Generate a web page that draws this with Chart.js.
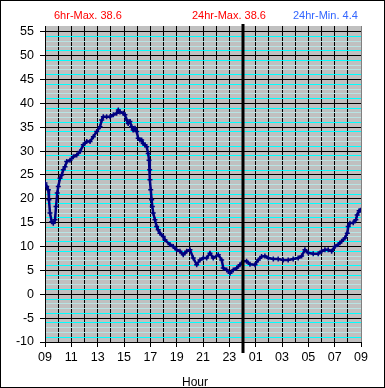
<!DOCTYPE html>
<html><head><meta charset="utf-8">
<script src="https://cdn.jsdelivr.net/npm/chart.js@4/dist/chart.umd.min.js"></script>
<style>html,body{margin:0;padding:0;background:#fff;}canvas{display:block;}</style>
</head><body>
<canvas id="c" width="385" height="388"></canvas>
<script>
// hours since 09:00
const hourOffsets = [0.00,0.13,0.25,0.30,0.38,0.51,0.63,0.76,0.84,0.93,1.01,1.14,1.27,1.39,1.52,1.65,1.90,2.15,2.41,2.66,2.91,3.17,3.42,3.67,3.93,4.18,4.31,4.43,4.68,4.94,5.19,5.44,5.57,5.69,5.95,6.07,6.20,6.32,6.45,6.58,6.70,6.83,6.96,7.08,7.21,7.34,7.46,7.59,7.72,7.84,7.90,7.95,7.97,8.03,8.10,8.15,8.22,8.35,8.48,8.60,8.73,8.98,9.11,9.49,9.74,10.00,10.25,10.50,10.76,11.01,11.26,11.52,11.77,12.02,12.28,12.53,12.78,13.16,13.42,13.54,13.80,14.05,14.30,14.56,14.81,15.06,15.31,15.57,15.95,16.20,16.45,16.70,16.96,17.34,17.71,18.09,18.47,18.85,19.23,19.49,19.74,19.99,20.37,20.75,21.01,21.26,21.51,21.77,22.02,22.27,22.53,22.78,22.96,23.03,23.16,23.41,23.61,23.71,23.86,23.97];
const temps = [23.3,22.6,21.9,19.8,17.0,15.2,14.9,15.6,18.4,21.2,22.6,24.3,25.0,26.1,26.7,27.8,28.1,28.8,29.2,29.9,31.3,32.0,32.0,33.0,34.1,35.1,36.5,37.2,37.2,37.2,37.6,37.9,38.6,38.2,37.9,37.6,36.5,35.8,36.2,35.1,34.4,34.8,34.1,32.7,32.3,32.3,31.6,31.3,30.9,29.5,28.1,26.1,24.0,21.9,19.8,18.4,17.0,15.6,14.2,13.5,12.8,12.1,11.4,10.4,10.0,9.3,9.0,8.3,9.0,9.3,7.6,6.2,7.2,7.6,7.6,8.6,7.6,8.3,7.2,5.5,5.1,4.4,5.1,5.5,6.2,6.9,6.9,6.3,6.2,7.2,7.9,8.0,7.6,7.4,7.4,7.2,7.2,7.4,7.6,8.0,9.3,8.7,8.5,8.5,9.0,9.3,9.3,9.0,10.0,10.4,11.1,11.8,12.8,14.2,14.9,15.0,15.6,16.6,17.5,17.6];
const xTickLabels = ['09','11','13','15','17','19','21','23','01','03','05','07','09'];
const yTickValues = [-10,-9,-8,-7,-6,-5,-4,-3,-2,-1,0,1,2,3,4,5,6,7,8,9,10,11,12,13,14,15,16,17,18,19,20,21,22,23,24,25,26,27,28,29,30,31,32,33,34,35,36,37,38,39,40,41,42,43,44,45,46,47,48,49,50,51,52,53,54,55];
const headerLabels = ['6hr-Max. 38.6','24hr-Max. 38.6','24hr-Min. 4.4'];
const xAxisTitle = 'Hour';
const midnightOffset = 15;

const points = hourOffsets.map((h,i)=>({x:h,y:temps[i]}));
const FONT = '"Liberation Sans", Arial, sans-serif';

const decor = {
  id:'decor',
  beforeDraw(chart){
    const {ctx, chartArea:a} = chart;
    ctx.save();
    ctx.fillStyle = '#ffffff';
    ctx.fillRect(0,0,chart.width,chart.height);
    ctx.fillStyle = '#c0c0c0';
    ctx.fillRect(a.left,a.top,a.right-a.left,a.bottom-a.top);
    ctx.restore();
  },
  afterDatasetsDraw(chart){
    const {ctx, chartArea:a, scales} = chart;
    ctx.save();
    const mx = Math.round(scales.x.getPixelForValue(midnightOffset));
    ctx.strokeStyle = '#000';
    ctx.lineWidth = 3;
    ctx.beginPath();
    ctx.moveTo(mx, a.top-2);
    ctx.lineTo(mx, a.bottom+11);
    ctx.stroke();
    // frame
    ctx.lineWidth = 1;
    ctx.strokeRect(0.5,0.5,chart.width-1,chart.height-1);
    // header texts
    ctx.font = '11px ' + FONT;
    ctx.textBaseline = 'alphabetic';
    ctx.textAlign = 'left';
    const cols = ['#ff0000','#ff0000','#3366ff'];
    const xs = [54, 192, 293];
    headerLabels.forEach((t,i)=>{ ctx.fillStyle = cols[i]; ctx.fillText(t, xs[i], 19); });
    ctx.font = '12px ' + FONT;
    ctx.fillStyle = '#000';
    ctx.textAlign = 'center';
    ctx.fillText(xAxisTitle, 195, 386);
    ctx.restore();
  }
};

new Chart(document.getElementById('c'), {
  type:'scatter',
  data:{datasets:[{
    data: points,
    showLine: true,
    borderColor:'#000080',
    backgroundColor:'#000080',
    borderWidth:2.5,
    pointStyle:'cross',
    pointRadius:2.5,
    pointBorderWidth:1.5,
    tension:0
  }]},
  options:{
    responsive:false,
    animation:false,
    devicePixelRatio:1,
    layout:{padding:{top:26,right:24,left:0,bottom:0}},
    plugins:{legend:{display:false},tooltip:{enabled:false},title:{display:false}},
    scales:{
      x:{
        type:'linear', min:0, max:24,
        afterFit(s){ s.height = 46; },
        afterBuildTicks(s){ s.ticks = Array.from({length:25},(_,i)=>({value:i})); },
        ticks:{autoSkip:false, maxRotation:0, padding:3, color:'#000',
          font:{family:FONT, size:12.5},
          callback:(v)=> (v%2===0 ? xTickLabels[v/2] : '')},
        grid:{
          color:(c)=> (c.tick && c.tick.value===24 ? '#808080' : '#000'),
          lineWidth:1,
          tickLength:5,
          tickColor:(c)=> (c.tick && c.tick.value%2===0 ? '#000' : 'rgba(0,0,0,0)')
        },
        border:{color:'#000', width:1}
      },
      y:{
        type:'linear', min:-10, max:56.2,
        afterFit(s){ s.width = 45; },
        afterBuildTicks(s){ s.ticks = yTickValues.map(v=>({value:v})); },
        ticks:{autoSkip:false, padding:6, color:'#000',
          font:{family:FONT, size:12.5},
          callback:(v)=> (v%5===0 ? String(v) : '')},
        grid:{
          color:(c)=>{ if(!c.tick) return '#000'; const v=c.tick.value; const m=((v%5)+5)%5; if(m===0) return '#000'; return (m===1||m===4)?'#00ffff':'#b8e4e4'; },
          lineWidth:1,
          tickLength:5,
          tickColor:(c)=> (c.tick && c.tick.value%5===0 ? '#000' : 'rgba(0,0,0,0)')
        },
        border:{color:'#000', width:1}
      }
    }
  },
  plugins:[decor]
});
</script>
</body></html>
